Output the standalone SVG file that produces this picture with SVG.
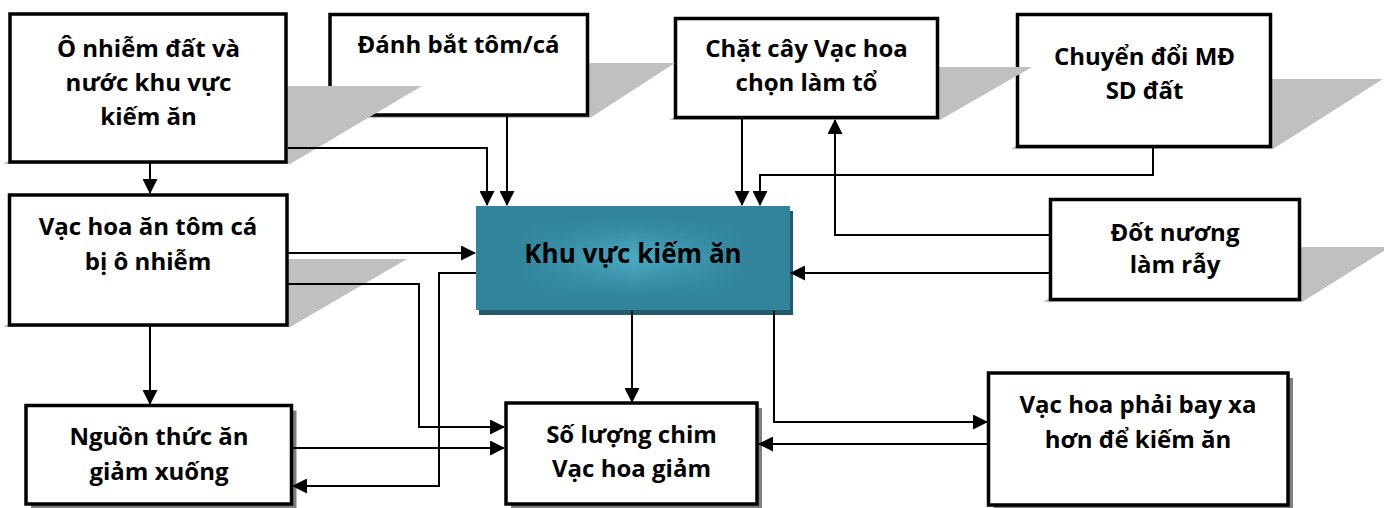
<svg xmlns="http://www.w3.org/2000/svg" width="1384" height="508" viewBox="0 0 1384 508">
<style>
.box{fill:#fff;stroke:#000;stroke-width:3.5}
.psh{fill:#c0c0c0}
.osh{fill:#7f7f7f}
.t{font-family:"Open Sans","Noto Sans","DejaVu Sans",sans-serif;font-weight:bold;font-size:24px;fill:#000;text-anchor:middle}
.tc{font-size:26px}
.c{fill:none;stroke:#000;stroke-width:2}
.a{marker-end:url(#ah)}
</style>
<defs>
<marker id="ah" viewBox="0 0 15 15" markerWidth="15" markerHeight="15" markerUnits="userSpaceOnUse" refX="14" refY="7.5" orient="auto">
<path d="M0,0 L15,7.5 L0,15 z" fill="#000"/>
</marker>
<linearGradient id="gh" x1="0" x2="1" y1="0" y2="0">
<stop offset="0" stop-color="#000"/><stop offset="0.12" stop-color="#000"/><stop offset="0.5" stop-color="#fff"/><stop offset="0.88" stop-color="#000"/><stop offset="1" stop-color="#000"/>
</linearGradient>
<linearGradient id="gv" x1="0" x2="0" y1="0" y2="1">
<stop offset="0" stop-color="#000"/><stop offset="0.12" stop-color="#000"/><stop offset="0.5" stop-color="#fff"/><stop offset="0.88" stop-color="#000"/><stop offset="1" stop-color="#000"/>
</linearGradient>
<mask id="mh" maskUnits="userSpaceOnUse" x="0" y="0" width="1384" height="508"><rect x="476" y="206" width="314" height="104" fill="url(#gh)"/></mask>
<mask id="mv" maskUnits="userSpaceOnUse" x="0" y="0" width="1384" height="508"><rect x="476" y="206" width="314" height="104" fill="url(#gv)"/></mask>
</defs>

<g id="node-chuyen-doi">
<polygon class="psh" points="1011,149 1273,149 1383,79 1121,79"/>
<rect class="box" x="1017.5" y="14.5" width="253" height="132"/>
<text class="t" x="1144.5" y="65">Chuyển đổi MĐ</text>
<text class="t" x="1144.5" y="99">SD đất</text>
</g>

<g id="node-chat-cay">
<polygon class="psh" points="669,120 940,120 1032,67 761,67"/>
<rect class="box" x="675.5" y="18.5" width="262" height="99"/>
<text class="t" x="806.5" y="57">Chặt cây Vạc hoa</text>
<text class="t" x="806.5" y="91">chọn làm tổ</text>
</g>

<g id="node-danh-bat">
<polygon class="psh" points="323,118 590,118 675,63 408,63"/>
<rect class="box" x="330" y="14.5" width="257.5" height="100.5"/>
<text class="t" x="458.5" y="53">Đánh bắt tôm/cá</text>
</g>

<g id="node-o-nhiem">
<polygon class="psh" points="3,164 290,164 422,86 135,86"/>
<rect class="box" x="10" y="14" width="276" height="148"/>
<text class="t" x="148.5" y="57">Ô nhiễm đất và</text>
<text class="t" x="148.5" y="91">nước khu vực</text>
<text class="t" x="148.5" y="125">kiếm ăn</text>
</g>

<g id="node-vac-hoa-an">
<polygon class="psh" points="3,327 290,327 407,259 120,259"/>
<rect class="box" x="9.5" y="195" width="277.5" height="130"/>
<text class="t" x="148" y="235">Vạc hoa ăn tôm cá</text>
<text class="t" x="148" y="270">bị ô nhiễm</text>
</g>

<g id="node-dot-nuong">
<polygon class="psh" points="1043,302 1302,302 1390,247 1131,247"/>
<rect class="box" x="1050.5" y="199.5" width="249" height="100"/>
<text class="t" x="1175" y="241">Đốt nương</text>
<text class="t" x="1175" y="273">làm rẫy</text>
</g>

<g id="node-khu-vuc">
<rect x="479" y="211" width="314" height="104" fill="#225b6b"/>
<rect x="476" y="206" width="314" height="104" fill="#31849b"/>
<g mask="url(#mv)"><rect x="476" y="206" width="314" height="104" fill="#4cabc4" mask="url(#mh)"/></g>
<text class="t tc" x="633" y="263">Khu vực kiếm ăn</text>
</g>

<g id="node-nguon">
<rect class="osh" x="31" y="410.5" width="265.5" height="98.5"/>
<rect class="box" x="26" y="405.5" width="265.5" height="98.5"/>
<text class="t" x="159" y="445">Nguồn thức ăn</text>
<text class="t" x="159" y="480">giảm xuống</text>
</g>

<g id="node-so-luong">
<rect class="osh" x="511" y="408" width="251" height="101"/>
<rect class="box" x="506" y="403" width="251" height="101"/>
<text class="t" x="631.5" y="443">Số lượng chim</text>
<text class="t" x="631.5" y="477">Vạc hoa giảm</text>
</g>

<g id="node-bay-xa">
<rect class="osh" x="993.5" y="378" width="299.5" height="132"/>
<rect class="box" x="988.5" y="373" width="299.5" height="132"/>
<text class="t" x="1138" y="413">Vạc hoa phải bay xa</text>
<text class="t" x="1138" y="448">hơn để kiếm ăn</text>
</g>

<g id="connectors">
<path class="c a" d="M150,163 V193"/>
<path class="c a" d="M288,148 H487 V205"/>
<path class="c a" d="M507,116 V205"/>
<path class="c a" d="M742,119 V205"/>
<path class="c a" d="M1153,148 V175 H760 V205"/>
<path class="c a" d="M1049,235 H835 V120"/>
<path class="c a" d="M1049,273 H791"/>
<path class="c a" d="M288,253 H475"/>
<path class="c a" d="M288,284 H419 V427 H504"/>
<path class="c a" d="M476,273 H439 V486 H293"/>
<path class="c a" d="M293,448 H504"/>
<path class="c a" d="M150,326 V404"/>
<path class="c a" d="M632,311 V402"/>
<path class="c a" d="M774,311 V422 H987"/>
<path class="c a" d="M987,444 H759"/>
</g>
</svg>
